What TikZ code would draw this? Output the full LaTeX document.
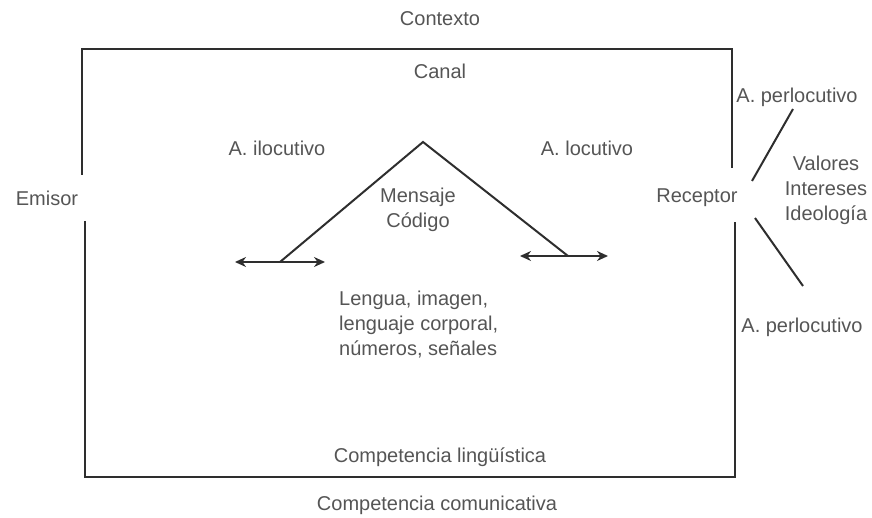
\documentclass[tikz,border=0pt]{standalone}
\usepackage{fontspec}
\setmainfont{Liberation Sans}
\usetikzlibrary{positioning,arrows.meta}
\definecolor{linegray}{HTML}{2E2E2E}
\definecolor{textgray}{HTML}{555555}

\begin{document}
\begin{tikzpicture}[x=1pt,y=-1pt,
    txt/.style={text=textgray,font=\fontsize{20}{25}\selectfont,inner sep=0pt,align=center},
    edge/.style={line width=2pt,linegray},
    tip/.style={{Stealth[length=11pt,width=10pt]}-{Stealth[length=11pt,width=10pt]}}]
    \useasboundingbox (0,0) rectangle (872,518);
    % frame, open at Emisor and Receptor
    \coordinate (tl) at (82,49);
    \coordinate (tr) at (732,49);
    \coordinate (bl) at (85,477);
    \coordinate (br) at (735,477);
    \coordinate (emisorup) at (82,175);
    \coordinate (emisordown) at (85,221);
    \coordinate (receptorup) at (732,168);
    \coordinate (receptordown) at (735,222);
    \draw[edge](emisorup)--(tl)--(tr)--(receptorup);
    \draw[edge](emisordown)--(bl)--(br)--(receptordown);
    % labels round the frame
    \node[txt] (contexto) at (440,19) {Contexto};
    \node[txt] (canal) at (440,71) {Canal};
    \node[txt] (linguistica) at (440,457) {Competencia lingüística};
    \node[txt] (comunicativa) at (437,505) {Competencia comunicativa};
    \node[txt] (emisor) at (47,198) {Emisor};
    \node[txt] (receptor) at (697,198) {Receptor};
    % message triangle
    \coordinate (apex) at (423,142);
    \coordinate (lfoot) at (280,262);
    \coordinate (rfoot) at (568,256);
    \coordinate (lleft) at (235,262);
    \coordinate (lright) at (325,262);
    \coordinate (rleft) at (520,256);
    \coordinate (rright) at (608,256);
    \draw[edge](lfoot)--(apex)--(rfoot);
    \draw[edge,tip](lleft)--(lright);
    \draw[edge,tip](rleft)--(rright);
    \node[txt] (ilocutivo) at (277,148) {A. ilocutivo};
    \node[txt] (locutivo) at (587,148) {A. locutivo};
    \node[txt] (mensaje) at (418,210) {Mensaje\\Código};
    \node[txt,align=left,anchor=west] (lengua) at (339,325) {Lengua, imagen,\\lenguaje corporal,\\números, señales};
    % receptor side
    \node[txt] (perloup) at (797,97) {A. perlocutivo};
    \node[txt] (valores) at (826,190) {Valores\\Intereses\\Ideología};
    \node[txt] (perlodown) at (802,327) {A. perlocutivo};
    \coordinate (upa) at (752,181);
    \coordinate (upb) at (793,109);
    \coordinate (downa) at (755,218);
    \coordinate (downb) at (803,286);
    \draw[edge](upa)--(upb);
    \draw[edge](downa)--(downb);
\end{tikzpicture}
\end{document}
